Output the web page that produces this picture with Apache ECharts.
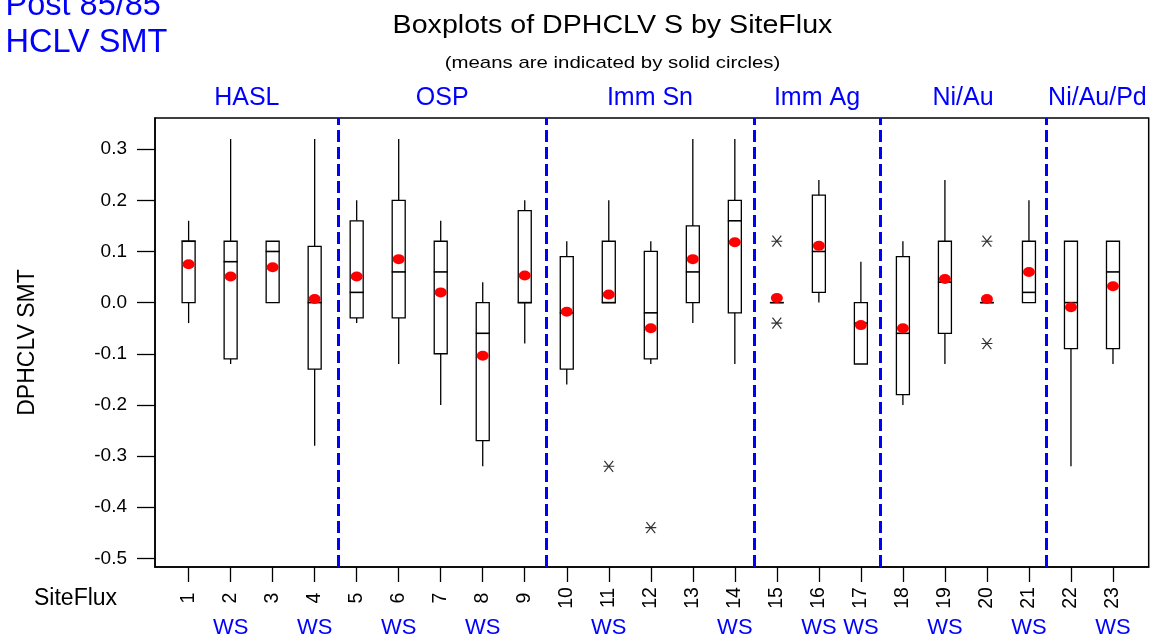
<!DOCTYPE html>
<html>
<head>
<meta charset="utf-8">
<script src="https://cdn.jsdelivr.net/npm/echarts@6/dist/echarts.min.js"></script>
<style>
html,body{margin:0;padding:0;background:#ffffff;}
#chart{width:1155px;height:641px;}
</style>
</head>
<body>
<div id="chart"></div>
<script>
// ---------- data ----------
const sites      = [1, 2, 3, 4, 5, 6, 7, 8, 9, 10, 11, 12, 13, 14, 15, 16, 17, 18, 19, 20, 21, 22, 23];
const boxMin     = [-0.04, -0.12, 0.00, -0.28, -0.04, -0.12, -0.20, -0.32, -0.08, -0.16, 0.00, -0.12, -0.04, -0.12, 0.00, 0.00, -0.12, -0.20, -0.12, 0.00, 0.00, -0.32, -0.12];
const boxQ1      = [0.00, -0.11, 0.00, -0.13, -0.03, -0.03, -0.10, -0.27, 0.00, -0.13, 0.00, -0.11, 0.00, -0.02, 0.00, 0.02, -0.12, -0.18, -0.06, 0.00, 0.00, -0.09, -0.09];
const boxMedian  = [0.12, 0.08, 0.10, 0.00, 0.02, 0.06, 0.06, -0.06, 0.00, -0.02, 0.00, -0.02, 0.06, 0.16, 0.00, 0.10, -0.04, -0.06, 0.04, 0.00, 0.02, 0.00, 0.06];
const boxQ3      = [0.12, 0.12, 0.12, 0.11, 0.16, 0.20, 0.12, 0.00, 0.18, 0.09, 0.12, 0.10, 0.15, 0.20, 0.00, 0.21, 0.00, 0.09, 0.12, 0.00, 0.12, 0.12, 0.12];
const boxMax     = [0.16, 0.32, 0.12, 0.32, 0.20, 0.32, 0.16, 0.04, 0.20, 0.12, 0.20, 0.12, 0.32, 0.32, 0.00, 0.24, 0.08, 0.12, 0.24, 0.00, 0.20, 0.12, 0.12];
const means      = [0.075, 0.051, 0.069, 0.007, 0.051, 0.085, 0.020, -0.104, 0.053, -0.018, 0.016, -0.050, 0.085, 0.118, 0.009, 0.111, -0.044, -0.050, 0.046, 0.007, 0.060, -0.009, 0.032];
const outlierSites  = [11, 12, 15, 15, 20, 20];
const outlierValues = [-0.32, -0.44, 0.12, -0.04, 0.12, -0.08];
const groupNames      = ['HASL', 'OSP', 'Imm Sn', 'Imm Ag', 'Ni/Au', 'Ni/Au/Pd'];
const groupSeparators = [4.57, 9.5, 14.46, 17.45, 21.41];
const wsSites   = [2, 4, 6, 8, 11, 14, 16, 17, 19, 21, 23];
const wsLabel   = 'WS';
const yTicks    = [-0.5, -0.4, -0.3, -0.2, -0.1, 0.0, 0.1, 0.2, 0.3];
const xTicks    = sites;

// ---------- helpers ----------
const FONT = "'Liberation Sans', Arial, Helvetica, sans-serif";
const X_MIN = 0.2, X_MAX = 23.85;
const Y_MIN = -0.517, Y_MAX = 0.361;
const bounds = [X_MIN].concat(groupSeparators, [X_MAX]);
const groupMids = groupNames.map((n, i) => (bounds[i] + bounds[i + 1]) / 2);

const boxData = sites.map((s, i) => [s, boxMin[i], boxQ1[i], boxMedian[i], boxQ3[i], boxMax[i]]);
const meanData = sites.map((s, i) => [s, means[i]]);
const outlierData = outlierSites.map((s, i) => [s, outlierValues[i]]);

const chart = echarts.init(document.getElementById('chart'));

function renderBox(params, api) {
  const x = api.value(0);
  const pMin = api.coord([x, api.value(1)]);
  const pQ1 = api.coord([x, api.value(2)]);
  const pMed = api.coord([x, api.value(3)]);
  const pQ3 = api.coord([x, api.value(4)]);
  const pMax = api.coord([x, api.value(5)]);
  const hw = 6.5;
  const st = () => ({ stroke: '#000000', lineWidth: 1.3, fill: 'none' });
  return {
    type: 'group',
    children: [
      { type: 'line', shape: { x1: pMax[0], y1: pMax[1], x2: pQ3[0], y2: pQ3[1] }, style: st() },
      { type: 'line', shape: { x1: pQ1[0], y1: pQ1[1], x2: pMin[0], y2: pMin[1] }, style: st() },
      { type: 'rect', shape: { x: pQ3[0] - hw, y: pQ3[1], width: 2 * hw, height: pQ1[1] - pQ3[1] }, style: st() },
      { type: 'line', shape: { x1: pMed[0] - hw - 0.5, y1: pMed[1], x2: pMed[0] + hw + 0.5, y2: pMed[1] }, style: { stroke: '#000000', lineWidth: 1.6 } }
    ]
  };
}

const option = {
  backgroundColor: '#ffffff',
  animation: false,
  grid: {
    left: 155, right: 6.3, top: 118, bottom: 74,
    show: true, borderColor: '#000000', borderWidth: 1.5, backgroundColor: 'transparent'
  },
  graphic: [
    { type: 'text', x: 5.5, y: 6, style: { text: 'Post 85/85', font: '32.5px ' + FONT, fill: '#0000FF', textAlign: 'left', textVerticalAlign: 'middle' } },
    { type: 'text', x: 5.5, y: 43, style: { text: 'HCLV SMT', font: '32.5px ' + FONT, fill: '#0000FF', textAlign: 'left', textVerticalAlign: 'middle' } },
    { type: 'text', x: 612.5, y: 26, scaleX: 1.1, style: { text: 'Boxplots of DPHCLV S by SiteFlux', font: '26px ' + FONT, fill: '#000000', textAlign: 'center', textVerticalAlign: 'middle' } },
    { type: 'text', x: 612.5, y: 63, scaleX: 1.2, style: { text: '(means are indicated by solid circles)', font: '17px ' + FONT, fill: '#000000', textAlign: 'center', textVerticalAlign: 'middle' } },
    { type: 'text', x: 34, y: 599, style: { text: 'SiteFlux', font: '23px ' + FONT, fill: '#000000', textAlign: 'left', textVerticalAlign: 'middle' } }
  ],
  xAxis: [
    {
      type: 'value', position: 'bottom', min: X_MIN, max: X_MAX,
      splitLine: { show: false },
      axisLine: { show: true, onZero: false, lineStyle: { color: '#000000', width: 1.5 } },
      axisTick: { show: true, inside: false, length: 15, customValues: xTicks, lineStyle: { color: '#000000', width: 1.3 } },
      axisLabel: {
        show: true, customValues: xTicks, rotate: 90, align: 'center', verticalAlign: 'middle', margin: 31,
        color: '#000000', fontSize: 19.5, fontFamily: FONT,
        formatter: v => String(Math.round(v))
      }
    },
    {
      type: 'value', position: 'top', min: X_MIN, max: X_MAX,
      splitLine: { show: false }, axisLine: { show: false, onZero: false }, axisTick: { show: false },
      axisLabel: {
        show: true, customValues: groupMids, verticalAlign: 'middle', margin: 20,
        color: '#0000FF', fontSize: 25, fontFamily: FONT,
        formatter: v => {
          let best = 0, d = Infinity;
          groupMids.forEach((m, i) => { if (Math.abs(m - v) < d) { d = Math.abs(m - v); best = i; } });
          return groupNames[best];
        }
      }
    },
    {
      type: 'value', position: 'bottom', min: X_MIN, max: X_MAX,
      splitLine: { show: false }, axisLine: { show: false, onZero: false }, axisTick: { show: false },
      axisLabel: {
        show: true, customValues: wsSites, verticalAlign: 'middle', margin: 61,
        color: '#0000FF', fontSize: 22, fontFamily: FONT,
        formatter: () => wsLabel
      }
    }
  ],
  yAxis: {
    type: 'value', min: Y_MIN, max: Y_MAX,
    name: 'DPHCLV SMT', nameLocation: 'middle', nameRotate: 90, nameGap: 116,
    nameTextStyle: { color: '#000000', fontSize: 23, fontFamily: FONT },
    splitLine: { show: false },
    axisLine: { show: true, onZero: false, lineStyle: { color: '#000000', width: 1.5 } },
    axisTick: { show: true, inside: false, length: 18, customValues: yTicks, lineStyle: { color: '#000000', width: 1.3 } },
    axisLabel: {
      show: true, customValues: yTicks, margin: 28,
      color: '#000000', fontSize: 19, fontFamily: FONT,
      formatter: v => Number(v).toFixed(1)
    }
  },
  series: [
    {
      type: 'custom', name: 'box', xAxisIndex: 0, yAxisIndex: 0,
      renderItem: renderBox,
      encode: { x: 0, y: [1, 2, 3, 4, 5] },
      data: boxData, z: 3,
      markLine: {
        silent: true, symbol: 'none', label: { show: false },
        lineStyle: { color: '#0000FF', width: 3, type: [12, 5] },
        data: groupSeparators.map(v => ({ xAxis: v }))
      }
    },
    {
      type: 'scatter', name: 'mean', xAxisIndex: 0, yAxisIndex: 0,
      data: meanData, symbol: 'circle', symbolSize: [12, 10],
      itemStyle: { color: '#FF0000', opacity: 1 }, z: 5
    },
    {
      type: 'scatter', name: 'outlier', xAxisIndex: 0, yAxisIndex: 0,
      data: outlierData, symbol: 'path://M0 5H10M1 0L9 10M9 0L1 10', symbolSize: [11, 11],
      itemStyle: { color: 'none', borderColor: '#000000', borderWidth: 1.2 }, z: 5
    }
  ]
};
chart.setOption(option);
</script>
</body>
</html>
